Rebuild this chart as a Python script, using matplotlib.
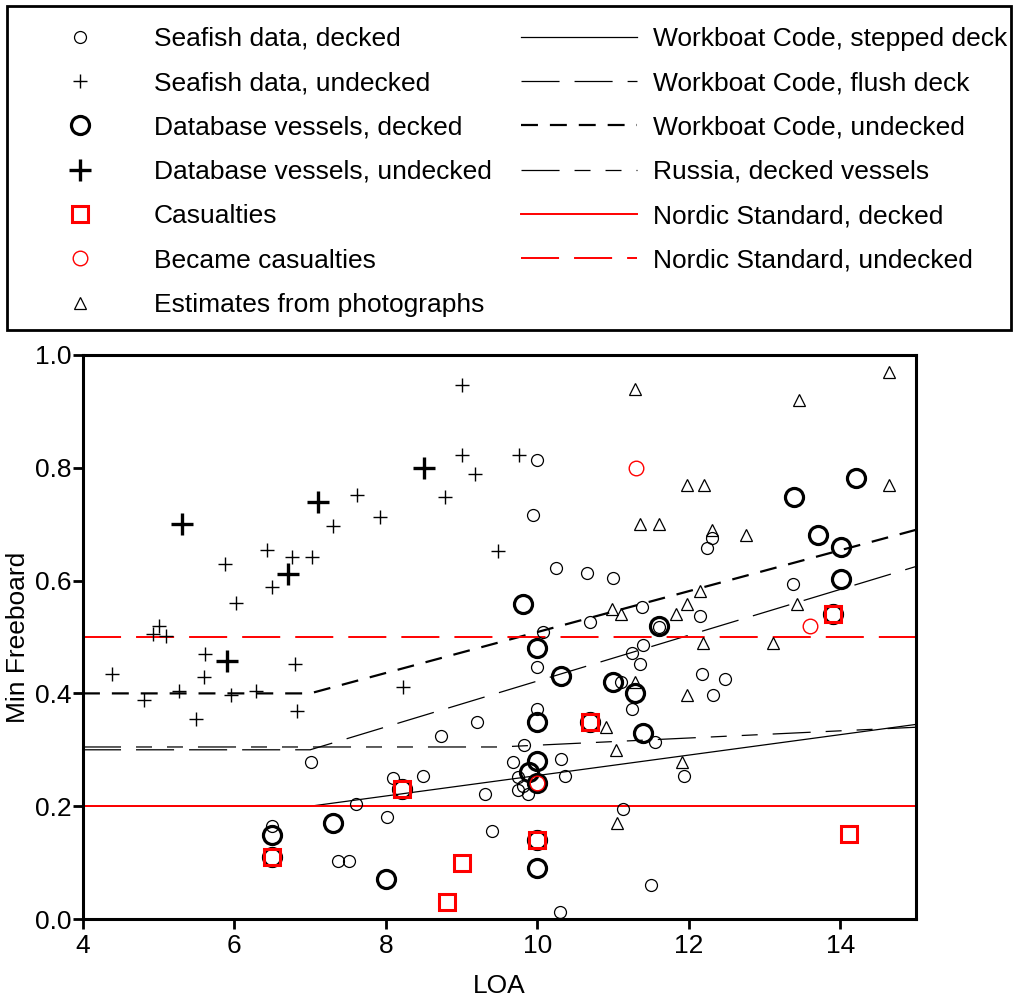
import matplotlib
matplotlib.use("Agg")
import matplotlib.pyplot as plt
from matplotlib.lines import Line2D
from matplotlib.patches import Rectangle

plt.rcParams['font.family'] = ['Liberation Sans', 'DejaVu Sans']
plt.rcParams['lines.scale_dashes'] = False

# Seafish survey, decked vessels (LOA m, min freeboard m)
seafish_decked_loa = [7.01, 7.61, 6.50, 7.37, 7.51, 8.02, 8.10, 8.49, 8.73, 9.20, 9.31, 9.40,
                      9.68, 9.75, 9.81, 9.75, 9.87, 9.83, 10.0, 10.0, 10.31, 10.37, 10.30,
                      10.08, 10.0, 9.94, 10.24, 10.66, 11.0, 10.70, 11.38, 11.11, 11.25, 11.36,
                      11.40, 11.25, 11.13, 11.56, 11.50, 11.60, 11.93, 12.15, 12.18, 12.48,
                      12.32, 12.31, 12.24, 13.37]
seafish_decked_fb = [0.278, 0.204, 0.165, 0.103, 0.103, 0.181, 0.250, 0.253, 0.324, 0.349, 0.221, 0.156,
                     0.278, 0.251, 0.236, 0.228, 0.221, 0.308, 0.373, 0.446, 0.283, 0.253, 0.012,
                     0.508, 0.814, 0.717, 0.623, 0.614, 0.605, 0.526, 0.554, 0.421, 0.472, 0.453,
                     0.485, 0.372, 0.195, 0.313, 0.060, 0.517, 0.253, 0.538, 0.435, 0.426,
                     0.398, 0.676, 0.657, 0.594]

# Seafish survey, undecked vessels
seafish_undecked_loa = [4.38, 4.81, 4.92, 5.00, 5.10, 5.27, 5.49, 5.60, 5.61, 5.88, 5.96, 6.02,
                        6.29, 6.43, 6.50, 6.76, 6.80, 6.83, 7.03, 7.30, 7.62, 7.92, 8.23, 8.78,
                        9.01, 9.01, 9.18, 9.48, 9.76]
seafish_undecked_fb = [0.434, 0.388, 0.506, 0.520, 0.501, 0.404, 0.354, 0.429, 0.470, 0.630, 0.398, 0.561,
                       0.405, 0.655, 0.588, 0.641, 0.453, 0.369, 0.641, 0.696, 0.752, 0.712, 0.411, 0.749,
                       0.947, 0.823, 0.789, 0.653, 0.823]

# Database vessels
db_decked_loa = [6.50, 6.50, 7.30, 8.00, 8.21, 9.81, 9.89, 10.0, 10.0, 10.0, 10.0, 10.0, 10.0,
                 10.31, 10.70, 11.0, 11.29, 11.40, 11.61, 13.39, 13.71, 13.91, 14.01, 14.01, 14.21]
db_decked_fb = [0.149, 0.110, 0.170, 0.071, 0.230, 0.559, 0.260, 0.090, 0.140, 0.241, 0.281, 0.350, 0.480,
                0.430, 0.350, 0.420, 0.400, 0.329, 0.520, 0.749, 0.680, 0.540, 0.660, 0.602, 0.781]

db_undecked_loa = [5.31, 5.90, 6.71, 7.10, 8.50]
db_undecked_fb = [0.700, 0.458, 0.611, 0.740, 0.800]

casualty_loa = [6.50, 8.21, 8.81, 9.01, 10.0, 10.70, 13.91, 14.11]
casualty_fb = [0.110, 0.230, 0.030, 0.099, 0.140, 0.350, 0.540, 0.150]

became_loa = [10.0, 11.30, 13.60]
became_fb = [0.241, 0.800, 0.520]

# Freeboard estimated from photographs
photo_loa = [11.29, 13.45, 14.65, 11.97, 12.20, 14.65, 11.36, 11.60, 12.31, 12.76, 12.15, 11.97,
             11.83, 13.43, 10.99, 11.11, 12.19, 13.11, 11.29, 11.97, 10.91, 11.04, 11.91, 11.05]
photo_fb = [0.940, 0.920, 0.970, 0.770, 0.770, 0.770, 0.701, 0.701, 0.690, 0.680, 0.581, 0.559,
            0.540, 0.559, 0.550, 0.540, 0.489, 0.489, 0.420, 0.398, 0.340, 0.299, 0.278, 0.170]

# Minimum freeboard rules
rule_loa = [4, 7, 15]
wbc_stepped = [0.20, 0.20, 0.345]
wbc_flush = [0.30, 0.30, 0.625]
wbc_undecked = [0.40, 0.40, 0.69]
russia_loa = [4, 9.5, 15]
russia_decked = [0.305, 0.305, 0.34]
nordic_loa = [4, 15]
nordic_decked = [0.2, 0.2]
nordic_undecked = [0.5, 0.5]

fig = plt.figure(figsize=(10.18, 9.96), dpi=100)
ax = fig.add_axes([0.0815, 0.0773, 0.8183, 0.5663])

long_dash = (0, (27.4, 10.8))
short_dash = (0, (12.2, 8.6))
russia_dash = (0, (27.4, 10.8, 11.5, 10.8, 11.5, 10.8))

ax.plot(rule_loa, wbc_stepped, color='black', lw=0.9, zorder=2)
ax.plot(rule_loa, wbc_flush, color='black', lw=0.9, ls=long_dash, zorder=2)
ax.plot(rule_loa, wbc_undecked, color='black', lw=1.6, ls=short_dash, zorder=2)
ax.plot(russia_loa, russia_decked, color='black', lw=0.9, ls=russia_dash, zorder=2)
ax.plot(nordic_loa, nordic_decked, color='red', lw=1.4, zorder=2)
ax.plot(nordic_loa, nordic_undecked, color='red', lw=1.4, ls=long_dash, zorder=2)

small_o = dict(ls='none', marker='o', ms=8.6, mew=0.9, mfc='none', mec='black')
small_p = dict(ls='none', marker='+', ms=9.5, mew=1.0, color='black')
big_o = dict(ls='none', marker='o', ms=13, mew=2.3, mfc='none', mec='black')
big_p = dict(ls='none', marker='+', ms=16, mew=2.4, color='black')
red_s = dict(ls='none', marker='s', ms=11, mew=2.2, mfc='none', mec='red')
red_o = dict(ls='none', marker='o', ms=10.5, mew=1.0, mfc='none', mec='red')
tri = dict(ls='none', marker='^', ms=9, mew=0.9, mfc='none', mec='black')

ax.plot(seafish_decked_loa, seafish_decked_fb, zorder=3, **small_o)
ax.plot(seafish_undecked_loa, seafish_undecked_fb, zorder=3, **small_p)
ax.plot(photo_loa, photo_fb, zorder=3, **tri)
ax.plot(db_decked_loa, db_decked_fb, zorder=4, **big_o)
ax.plot(db_undecked_loa, db_undecked_fb, zorder=4, **big_p)
ax.plot(casualty_loa, casualty_fb, zorder=5, **red_s)
ax.plot(became_loa, became_fb, zorder=5, **red_o)

ax.set_xlim(4, 15)
ax.set_ylim(0, 1.0)
ax.set_xticks([4, 6, 8, 10, 12, 14])
ax.set_yticks([0.0, 0.2, 0.4, 0.6, 0.8, 1.0])
ax.set_yticklabels(['0.0', '0.2', '0.4', '0.6', '0.8', '1.0'])
ax.tick_params(direction='out', length=7, width=2, labelsize=19)
ax.tick_params(axis='y', pad=1)
ax.tick_params(axis='x', pad=4)
for s in ax.spines.values():
    s.set_linewidth(2.2)
ax.set_xlabel('LOA', fontsize=19, labelpad=11)
ax.set_ylabel('Min Freeboard', fontsize=19, labelpad=4)

handles = [
    Line2D([], [], **small_o),
    Line2D([], [], **small_p),
    Line2D([], [], **big_o),
    Line2D([], [], **big_p),
    Line2D([], [], **red_s),
    Line2D([], [], **red_o),
    Line2D([], [], **tri),
    Line2D([], [], color='black', lw=0.9),
    Line2D([], [], color='black', lw=0.9, ls=long_dash),
    Line2D([], [], color='black', lw=1.6, ls=short_dash),
    Line2D([], [], color='black', lw=0.9, ls=russia_dash),
    Line2D([], [], color='red', lw=1.4),
    Line2D([], [], color='red', lw=1.4, ls=long_dash),
]
labels = ['Seafish data, decked', 'Seafish data, undecked', 'Database vessels, decked',
          'Database vessels, undecked', 'Casualties', 'Became casualties',
          'Estimates from photographs',
          'Workboat Code, stepped deck', 'Workboat Code, flush deck', 'Workboat Code, undecked',
          'Russia, decked vessels', 'Nordic Standard, decked', 'Nordic Standard, undecked']

fig.legend(handles, labels, ncol=2, loc='upper left', bbox_to_anchor=(22 / 1018, 1 - 27 / 996),
           frameon=False, fontsize=19, numpoints=1, handlelength=4.4, handletextpad=0.6,
           columnspacing=1.1, labelspacing=0.77, borderpad=0, borderaxespad=0)

fig.patches.append(Rectangle((7 / 1018, 1 - 330 / 996), 1004 / 1018, 324 / 996,
                             transform=fig.transFigure, fill=False, lw=2, ec='black'))

fig.savefig('out.png', dpi=100)
